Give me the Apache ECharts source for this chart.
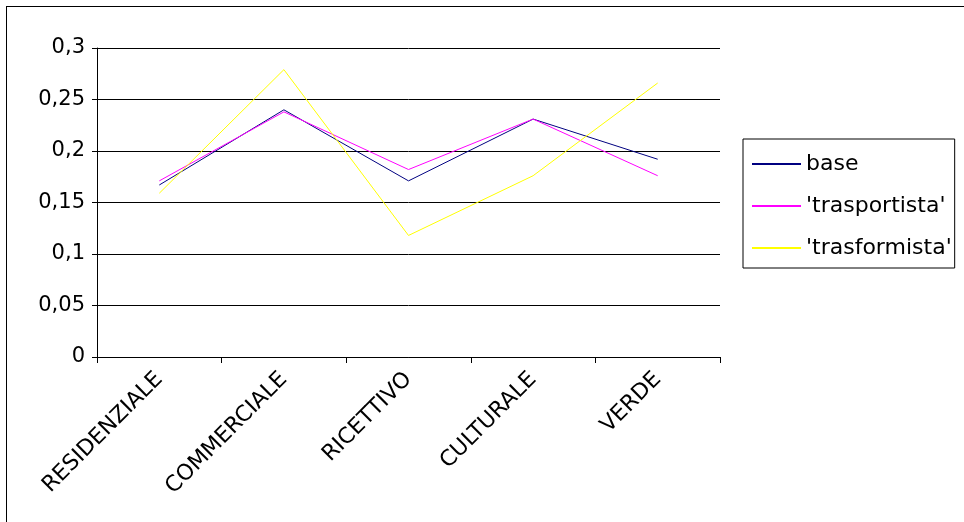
<!DOCTYPE html>
<html>
<head>
<meta charset="utf-8">
<script src="https://cdn.jsdelivr.net/npm/echarts@6/dist/echarts.min.js"></script>
<style>
  html, body { margin: 0; padding: 0; background: #fff; }
  #frame { position: absolute; left: 6px; top: 6px; width: 964px; height: 522px; border-left: 1px solid #000; border-top: 1px solid #000; }
  #chart { position: absolute; left: 0; top: 0; width: 964px; height: 522px; }
</style>
</head>
<body>
<div id="frame"></div>
<div id="chart"></div>
<script>
// Categories of land use
const categories = ['RESIDENZIALE', 'COMMERCIALE', 'RICETTIVO', 'CULTURALE', 'VERDE'];

// Weights per scenario
const baseValues = [0.167, 0.240, 0.171, 0.231, 0.192];
const trasportistaValues = [0.171, 0.238, 0.182, 0.231, 0.176];
const trasformistaValues = [0.159, 0.279, 0.118, 0.176, 0.266];

// Value axis ticks (Italian decimal comma)
const yTickValues = [0, 0.05, 0.1, 0.15, 0.2, 0.25, 0.3];
const yTickLabels = ['0', '0,05', '0,1', '0,15', '0,2', '0,25', '0,3'];

const seriesNames = ['base', "'trasportista'", "'trasformista'"];
const seriesColors = ['#000080', '#FF00FF', '#FFFF00'];
const seriesData = [baseValues, trasportistaValues, trasformistaValues];

const chart = echarts.init(document.getElementById('chart'));
const font = '"DejaVu Sans", sans-serif';

chart.setOption({
  animation: false,
  grid: { left: 97, right: 244, top: 48, bottom: 165 },
  legend: {
    orient: 'vertical',
    left: 743,
    top: 139,
    padding: [13, 3, 8, 9],
    itemGap: 18,
    itemWidth: 49,
    itemHeight: 2,
    icon: 'rect',
    borderColor: '#000',
    borderWidth: 1,
    textStyle: { fontFamily: font, fontSize: 22, lineHeight: 24, color: '#000' },
    data: seriesNames
  },
  xAxis: {
    type: 'category',
    data: categories,
    boundaryGap: true,
    axisLine: { lineStyle: { color: '#000', width: 1 } },
    axisTick: { show: true, length: 6, lineStyle: { color: '#000' } },
    axisLabel: { rotate: 45, fontFamily: font, fontSize: 22, color: '#000', margin: 19, interval: 0 }
  },
  yAxis: {
    type: 'value',
    min: 0,
    max: 0.3,
    interval: 0.05,
    axisLine: { show: true, lineStyle: { color: '#000', width: 1 } },
    axisTick: { show: true, length: 5, lineStyle: { color: '#000' } },
    splitLine: { show: true, lineStyle: { color: '#000', width: 1 } },
    axisLabel: {
      fontFamily: font, fontSize: 21, color: '#000', margin: 12,
      formatter: function (v) {
        const i = yTickValues.findIndex(t => Math.abs(t - v) < 1e-9);
        return i >= 0 ? yTickLabels[i] : String(v).replace('.', ',');
      }
    }
  },
  series: seriesNames.map((name, i) => ({
    name: name,
    type: 'line',
    data: seriesData[i],
    symbol: 'none',
    color: seriesColors[i],
    lineStyle: { width: 1, color: seriesColors[i] }
  }))
});
</script>
</body>
</html>
